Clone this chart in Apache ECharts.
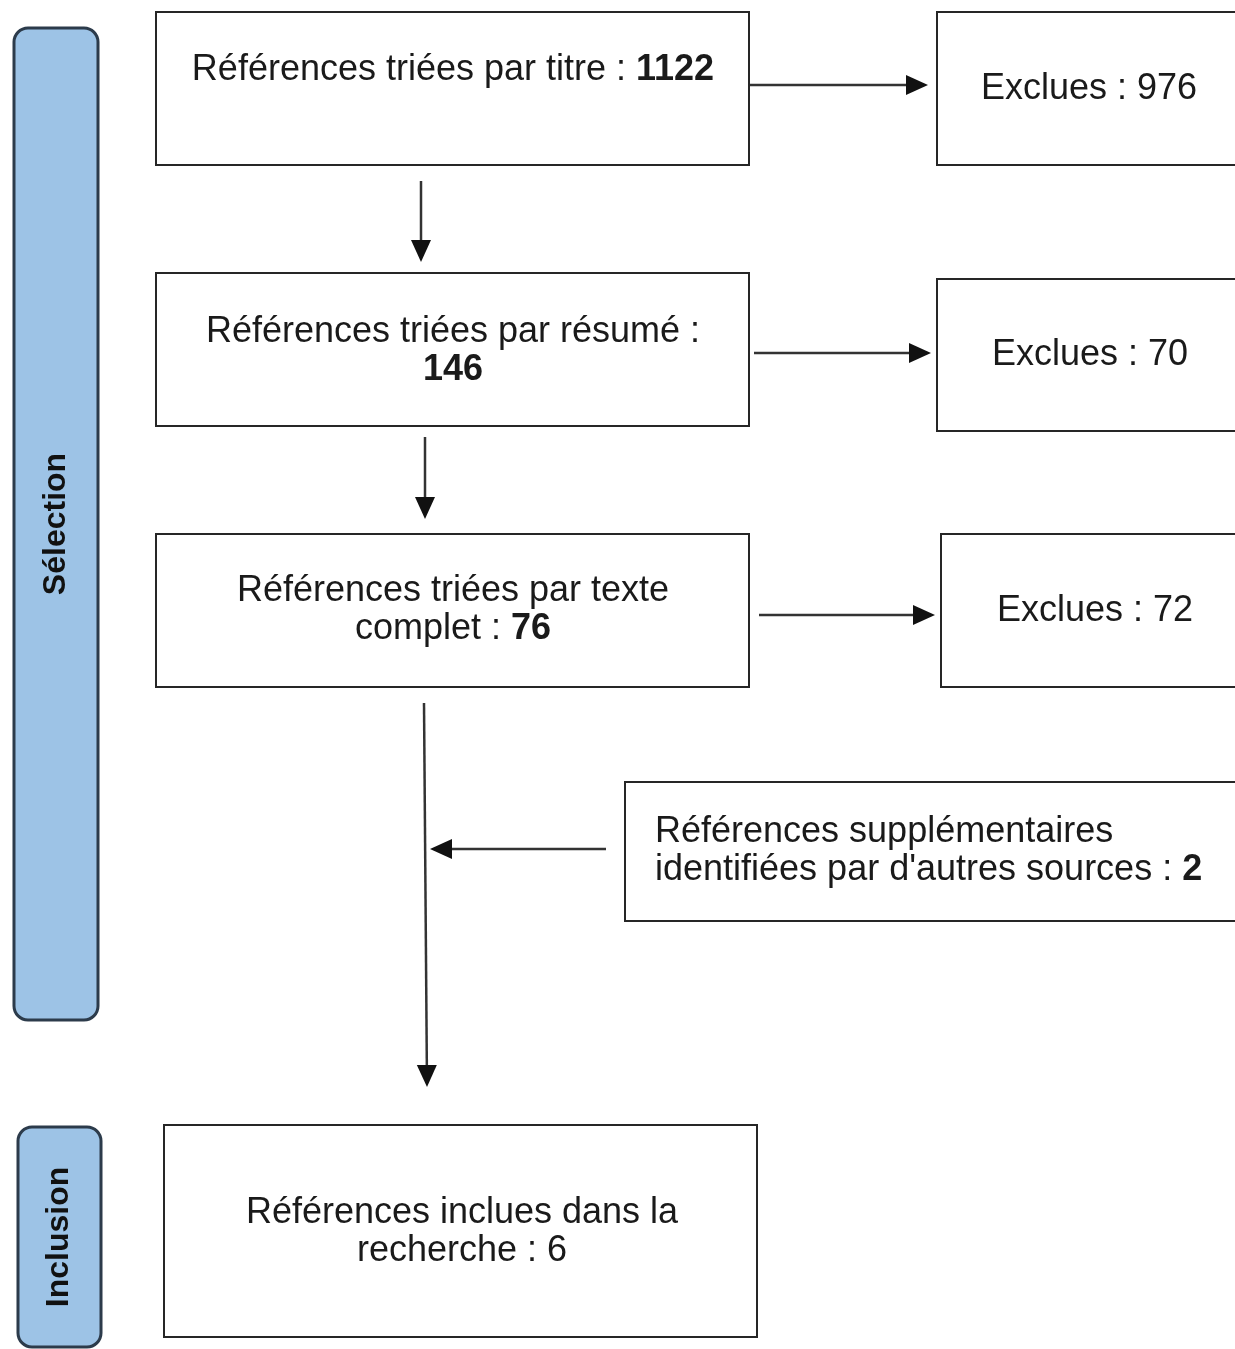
<!DOCTYPE html>
<html>
<head>
<meta charset="utf-8">
<style>
html,body{margin:0;padding:0;background:#ffffff;}
#chart{width:1235px;height:1349px;}
</style>
<script src="https://cdn.jsdelivr.net/npm/echarts@6/dist/echarts.min.js"></script>
</head>
<body>
<div id="chart"></div>
<script>
// ---- content ----
const boxLabels = [
  'Références triées par titre : {b|1122}',
  'Références triées par résumé :\n{b|146}',
  'Références triées par texte\ncomplet : {b|76}',
  'Exclues : 976',
  'Exclues : 70',
  'Exclues : 72',
  'Références supplémentaires\nidentifiées par d\'autres sources : {b|2}',
  'Références inclues dans la\nrecherche : 6'
];
const phaseLabels = ['Sélection', 'Inclusion'];

// ---- layout (diagram coordinates, y downwards) ----
const boxRects = [
  [156, 12, 749, 165],
  [156, 273, 749, 426],
  [156, 534, 749, 687],
  [937, 12, 1245, 165],
  [937, 279, 1245, 431],
  [941, 534, 1245, 687],
  [625, 782, 1245, 921],
  [164, 1125, 757, 1337]
];
const textAnchors = [
  [453, 70], [453, 351], [453, 610], [1089, 89], [1090, 355], [1095, 611], [655, 851], [462, 1232]
];
const textAligns = ['center','center','center','center','center','center','left','center'];
const phaseRects = [
  [14, 28, 98, 1020],
  [18, 1127, 101, 1347]
];
const arrowSegs = [
  [750, 85, 928, 85],
  [754, 353, 931, 353],
  [759, 615, 935, 615],
  [421, 181, 421, 262],
  [425, 437, 425, 519],
  [424, 703, 427, 1087],
  [606, 849, 430, 849]
];

const FONT = "'Liberation Sans', Arial, sans-serif";
const chart = echarts.init(document.getElementById('chart'), null, {renderer: 'canvas'});

const option = {
  backgroundColor: '#ffffff',
  animation: false,
  grid: {left: 0, right: 0, top: 0, bottom: 0},
  xAxis: {type: 'value', min: 0, max: 1235, show: false},
  yAxis: {type: 'value', min: 0, max: 1349, inverse: true, show: false},
  series: [
    {
      type: 'custom',
      name: 'phases',
      clip: false,
      data: phaseRects.map((r, i) => [r[0], r[1], r[2], r[3], i]),
      renderItem: function (params, api) {
        const p0 = api.coord([api.value(0), api.value(1)]);
        const p1 = api.coord([api.value(2), api.value(3)]);
        const i = api.value(4);
        return {
          type: 'group',
          children: [
            {
              type: 'rect',
              shape: {x: p0[0], y: p0[1], width: p1[0] - p0[0], height: p1[1] - p0[1], r: 14},
              style: {fill: '#9dc3e6', stroke: '#2c3b4b', lineWidth: 3}
            },
            {
              type: 'text',
              x: (p0[0] + p1[0]) / 2,
              y: (p0[1] + p1[1]) / 2,
              rotation: Math.PI / 2,
              style: {
                text: phaseLabels[i],
                fontFamily: FONT,
                fontSize: 32,
                fontWeight: 'bold',
                fill: '#111111',
                align: 'center',
                verticalAlign: 'middle'
              }
            }
          ]
        };
      }
    },
    {
      type: 'custom',
      name: 'boxes',
      clip: false,
      data: boxRects.map((r, i) => [r[0], r[1], r[2], r[3], i]),
      renderItem: function (params, api) {
        const p0 = api.coord([api.value(0), api.value(1)]);
        const p1 = api.coord([api.value(2), api.value(3)]);
        const i = api.value(4);
        const t = api.coord(textAnchors[i]);
        return {
          type: 'group',
          children: [
            {
              type: 'rect',
              shape: {x: p0[0], y: p0[1], width: p1[0] - p0[0], height: p1[1] - p0[1]},
              style: {fill: '#ffffff', stroke: '#262626', lineWidth: 2}
            },
            {
              type: 'text',
              x: t[0],
              y: t[1],
              style: {
                text: boxLabels[i],
                fontFamily: FONT,
                fontSize: 36,
                lineHeight: 38,
                fill: '#1a1a1a',
                align: textAligns[i],
                verticalAlign: 'middle',
                rich: {
                  b: {fontFamily: FONT, fontSize: 36, lineHeight: 38, fontWeight: 'bold', fill: '#1a1a1a'}
                }
              }
            }
          ]
        };
      }
    },
    {
      type: 'custom',
      name: 'arrows',
      clip: false,
      data: arrowSegs,
      renderItem: function (params, api) {
        const a = api.coord([api.value(0), api.value(1)]);
        const b = api.coord([api.value(2), api.value(3)]);
        const dx = b[0] - a[0], dy = b[1] - a[1];
        const len = Math.sqrt(dx * dx + dy * dy);
        const ux = dx / len, uy = dy / len;
        const head = 22, half = 10;
        const bx = b[0] - ux * head, by = b[1] - uy * head;
        const px = -uy, py = ux;
        return {
          type: 'group',
          children: [
            {
              type: 'line',
              shape: {x1: a[0], y1: a[1], x2: bx + ux * 2, y2: by + uy * 2},
              style: {stroke: '#333333', lineWidth: 2.5}
            },
            {
              type: 'polygon',
              shape: {points: [[b[0], b[1]], [bx + px * half, by + py * half], [bx - px * half, by - py * half]]},
              style: {fill: '#111111'}
            }
          ]
        };
      }
    }
  ]
};
chart.setOption(option);
</script>
</body>
</html>
